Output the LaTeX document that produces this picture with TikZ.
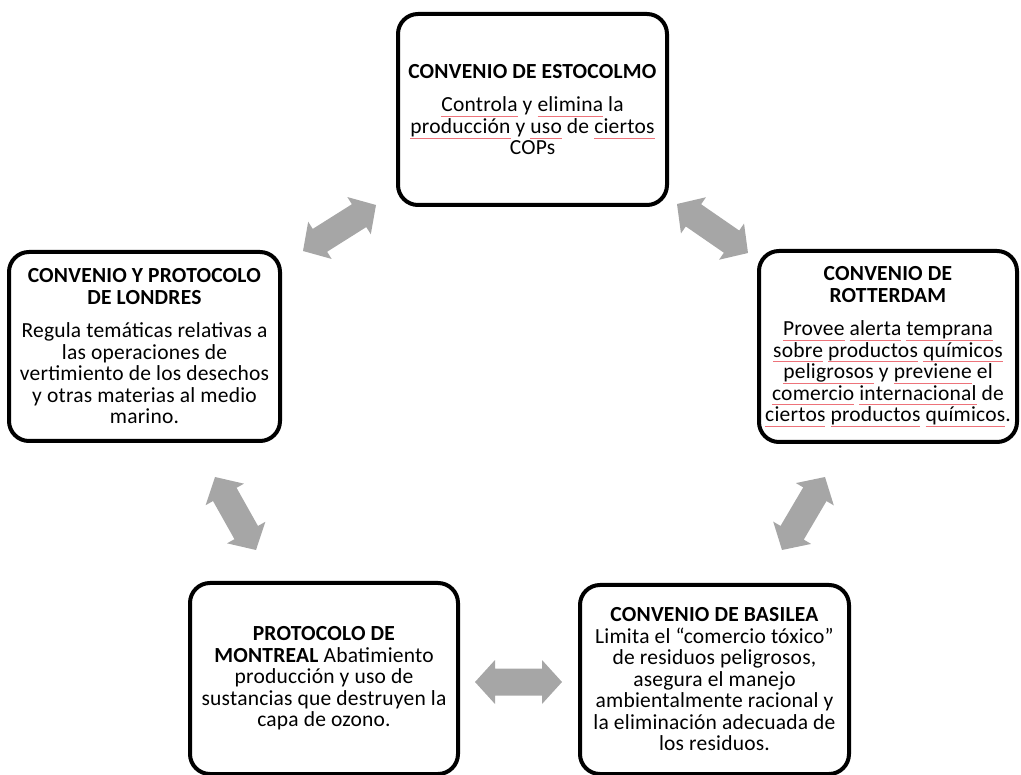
\documentclass[tikz,border=0pt]{standalone}
\usepackage{fontspec}
\setmainfont{Carlito}[LetterSpace=1]
\usetikzlibrary{calc}
\definecolor{arrowgray}{HTML}{A6A6A6}
\definecolor{spellred}{rgb}{0.93,0.45,0.48}
% thin red underline below a word
\newcommand\spchk[1]{\setbox0=\hbox{#1}\rlap{\color{spellred}\rule[-5pt]{\wd0}{0.7pt}}\box0\relax}
% grey block arrow with a head at both ends, between two named points
\newcommand\twoway[2]{%
  \fill[arrowgray] (#1)
    -- ($(#1)!20pt!(#2)!22pt!90:(#2)$) -- ($(#1)!20pt!(#2)!13.5pt!90:(#2)$)
    -- ($(#2)!20pt!(#1)!13.5pt!-90:(#1)$) -- ($(#2)!20pt!(#1)!22pt!-90:(#1)$)
    -- (#2)
    -- ($(#2)!20pt!(#1)!22pt!90:(#1)$) -- ($(#2)!20pt!(#1)!13.5pt!90:(#1)$)
    -- ($(#1)!20pt!(#2)!13.5pt!-90:(#2)$) -- ($(#1)!20pt!(#2)!22pt!-90:(#2)$)
    -- cycle;}
\begin{document}
\begin{tikzpicture}[x=1pt, y=-1pt,
  box/.style={draw, line width=4pt, rounded corners=20pt, align=center,
    inner sep=0pt, font=\fontsize{21.5}{21.5}\selectfont}]
\useasboundingbox (0,0) rectangle (1021,775);

% treaty boxes
\node[box, minimum width=269pt, minimum height=191pt] (esto) at (532.5,109.5)
  {\textbf{CONVENIO DE ESTOCOLMO}\\[12pt]
   \spchk{Controla} y \spchk{elimina} la\\
   \spchk{producción} y \spchk{uso} de \spchk{ciertos}\\
   COPs};

\node[box, minimum width=271pt, minimum height=189pt] (lond) at (144.5,346.5)
  {\textbf{CONVENIO Y PROTOCOLO}\\
   \textbf{DE LONDRES}\\[12pt]
   Regula temáticas relativas a\\
   las operaciones de\\
   vertimiento de los desechos\\
   y otras materias al medio\\
   marino.};

\node[box, minimum width=258pt, minimum height=191pt] (rott) at (888,346.5)
  {\textbf{CONVENIO DE}\\
   \textbf{ROTTERDAM}\\[12pt]
   \spchk{Provee} \spchk{alerta} \spchk{temprana}\\
   \spchk{sobre} \spchk{productos} \spchk{químicos}\\
   \spchk{peligrosos} y \spchk{previene} el\\
   \spchk{comercio} \spchk{internacional} de\\
   \spchk{ciertos} \spchk{productos} \spchk{químicos}.};

\node[box, minimum width=268pt, minimum height=191pt] (mont) at (324,678.5)
  {\textbf{PROTOCOLO DE}\\
   \textbf{MONTREAL} Abatimiento\\
   producción y uso de\\
   sustancias que destruyen la\\
   capa de ozono.};

\node[box, minimum width=269pt, minimum height=189pt] (basi) at (714.5,679.5)
  {\textbf{CONVENIO DE BASILEA}\\
   Limita el “comercio tóxico”\\
   de residuos peligrosos,\\
   asegura el manejo\\
   ambientalmente racional y\\
   la eliminación adecuada de\\
   los residuos.};

% arrow end points
\coordinate (a1s) at (303,251);
\coordinate (a1e) at (376,205);
\coordinate (a2s) at (677,204);
\coordinate (a2e) at (748,253);
\coordinate (a3s) at (215,477);
\coordinate (a3e) at (256,550);
\coordinate (a4s) at (825,477);
\coordinate (a4e) at (782,550);
\coordinate (a5s) at (475,682);
\coordinate (a5e) at (562,682);

\twoway{a1s}{a1e}
\twoway{a2s}{a2e}
\twoway{a3s}{a3e}
\twoway{a4s}{a4e}
\twoway{a5s}{a5e}
\end{tikzpicture}
\end{document}
